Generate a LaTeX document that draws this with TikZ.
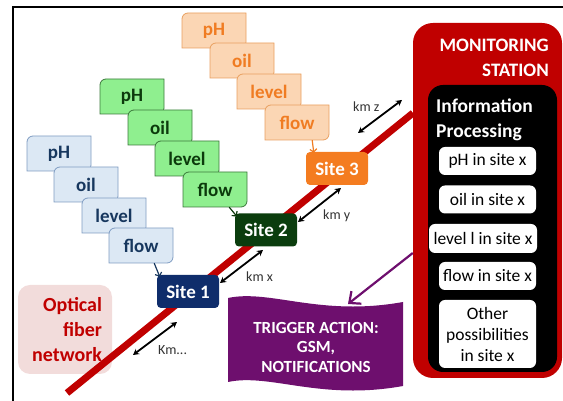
\documentclass[tikz,border=0pt]{standalone}
\usepackage{fontspec}
\setmainfont{Carlito}
\usetikzlibrary{arrows.meta}

\definecolor{fiberred}{HTML}{C00000}
\definecolor{bluefill}{HTML}{DCE8F4}
\definecolor{blueline}{HTML}{7F9CC2}
\definecolor{bluetext}{HTML}{17375E}
\definecolor{greenfill}{HTML}{8FEF8F}
\definecolor{greenline}{HTML}{3C7A3C}
\definecolor{greentext}{HTML}{0C3A0C}
\definecolor{orangefill}{HTML}{FBD6B4}
\definecolor{orangeline}{HTML}{E9A060}
\definecolor{orangetext}{HTML}{F07C22}
\definecolor{siteblue}{HTML}{0F2D6B}
\definecolor{sitegreen}{HTML}{0B3D0E}
\definecolor{siteorange}{HTML}{F47C20}
\definecolor{trigpurple}{HTML}{6E0F6E}
\definecolor{opticpink}{HTML}{F2DCDB}

% data box: name, left, top, colour, text
\newcommand{\databox}[5]{%
  \filldraw[fill=#4fill, draw=#4line, line width=0.8pt]
    (#2,#3-35) -- (#2+58,#3-35) arc[start angle=270, end angle=360, radius=6pt]
    -- (#2+64,#3) -- (#2+6,#3) arc[start angle=90, end angle=180, radius=6pt] -- cycle;
  \node[boxtext, text=#4text] (#1) at (#2+32,#3-17.5) {#5};
}

\begin{document}
\begin{tikzpicture}[x=1pt, y=1pt,
    every node/.style={align=center, inner sep=0pt},
    boxtext/.style={minimum width=64pt, minimum height=35pt, font=\fontsize{19}{22}\selectfont\bfseries},
    sitebox/.style={rounded corners=4pt, minimum width=62pt, minimum height=33pt, text=white, font=\fontsize{19}{22}\selectfont\bfseries},
    infobox/.style={fill=white, rounded corners=6pt, minimum width=97pt, minimum height=28pt, font=\fontsize{17.5}{21}\selectfont},
    kmarrow/.style={{Stealth[length=6pt,width=6.5pt]}-{Stealth[length=6pt,width=6.5pt]}, line width=1.8pt},
    kmlabel/.style={anchor=west, font=\fontsize{14}{16}\selectfont, text=black!80},
    feedarrow/.style={-{Straight Barb[length=3pt,width=7pt]}, line width=1.2pt}
  ]
  \useasboundingbox (0,0) rectangle (563,401);

  % frame
  \draw[line width=2pt] (13,0) -- (13,394) -- (563,394);

  % Optical fiber label
  \node[fill=opticpink, rounded corners=12pt, minimum width=94pt, minimum height=89pt,
        text width=74pt, align=right, text=fiberred, font=\fontsize{20}{25}\selectfont\bfseries]
        (optic) at (65,71.5) {Optical\\fiber\\network};

  % fiber
  \coordinate (fiberstart) at (67,8);
  \coordinate (fiberend) at (413,288);
  \draw[fiberred, line width=7pt] (fiberstart) -- (fiberend);

  % site 1 data
  \databox{bph}{27}{265}{blue}{pH}
  \databox{boil}{54}{234}{blue}{oil}
  \databox{blevel}{82}{203}{blue}{level}
  \databox{bflow}{109}{173}{blue}{flow}

  % site 2 data
  \databox{gph}{100}{322}{green}{pH}
  \databox{goil}{128}{291}{green}{oil}
  \databox{glevel}{155}{260}{green}{level}
  \databox{gflow}{183}{229}{green}{flow}

  % site 3 data
  \databox{oph}{182}{388}{orange}{pH}
  \databox{ooil}{210}{358}{orange}{oil}
  \databox{olevel}{237}{327}{orange}{level}
  \databox{oflow}{265}{296}{orange}{flow}

  % Sites
  \node[sitebox, fill=siteblue] (site1) at (188,109.5) {Site 1};
  \node[sitebox, fill=sitegreen] (site2) at (266,171) {Site 2};
  \node[sitebox, fill=siteorange] (site3) at (337,232.5) {Site 3};

  \draw[feedarrow, draw=bluetext] ([xshift=-19pt]bflow.south east) -- ([xshift=3pt,yshift=-2pt]site1.north west);
  \draw[feedarrow, draw=greentext] ([xshift=-18pt]gflow.south east) -- ([xshift=2pt,yshift=-3pt]site2.north west);
  \draw[feedarrow, draw=orangetext] ([xshift=-17pt]oflow.south east) -- ([xshift=8pt,yshift=-1pt]site3.north west);

  % distances
  \coordinate (km0a) at (133,46);  \coordinate (km0b) at (177,79);
  \coordinate (kmxa) at (220,118); \coordinate (kmxb) at (263,151);
  \coordinate (kmya) at (298,179); \coordinate (kmyb) at (341,213);
  \coordinate (kmza) at (358,268); \coordinate (kmzb) at (402,301);
  \draw[kmarrow] (km0a) -- (km0b);
  \draw[kmarrow] (kmxa) -- (kmxb);
  \draw[kmarrow] (kmya) -- (kmyb);
  \draw[kmarrow] (kmza) -- (kmzb);
  \node[kmlabel] (km0) at (158,51) {Km...};
  \node[kmlabel] (kmx) at (246,124) {km x};
  \node[kmlabel] (kmy) at (323,185) {km y};
  \node[kmlabel] (kmz) at (353,294) {km z};

  % Monitoring station
  \node[fill=fiberred, rounded corners=20pt, minimum width=149pt, minimum height=355pt] (station) at (487.5,200.5) {};
  \node[anchor=east, align=right, text=white, font=\fontsize{19}{25}\selectfont\bfseries] (stationtitle) at (549,343.5) {MONITORING\\STATION};
  \node[fill=black, rounded corners=15pt, minimum width=129pt, minimum height=287pt] (proc) at (492.5,172.5) {};
  \node[anchor=west, align=left, text=white, font=\fontsize{19.5}{25}\selectfont\bfseries] (proctitle) at (436,281.5) {Information\\Processing};
  \node[infobox] (iph) at (487.5,240) {pH in site x};
  \node[infobox] (ioil) at (487.5,201.5) {oil in site x};
  \node[infobox, minimum width=108pt, minimum height=29pt] (ilevel) at (483,162.5) {level l in site x};
  \node[infobox] (iflow) at (487.5,125) {flow in site x};
  \node[infobox, minimum height=68pt] (iother) at (487.5,67) {Other\\possibilities\\in site x};

  % Trigger action
  \fill[trigpurple] (228,103) .. controls (270,112) and (320,84) .. (403,99)
    -- (403,15) .. controls (320,0) and (270,28) .. (228,19) -- cycle;
  \node[text=white, font=\fontsize{17}{19.5}\selectfont\bfseries] (trigger) at (316,54) {TRIGGER ACTION:\\GSM,\\NOTIFICATIONS};
  \coordinate (trigtop) at (348,97);
  \draw[-{Straight Barb[length=9pt,width=16pt]}, line width=2.2pt, draw=trigpurple] ([yshift=-52.5pt]station.west) -- (trigtop);
\end{tikzpicture}
\end{document}
